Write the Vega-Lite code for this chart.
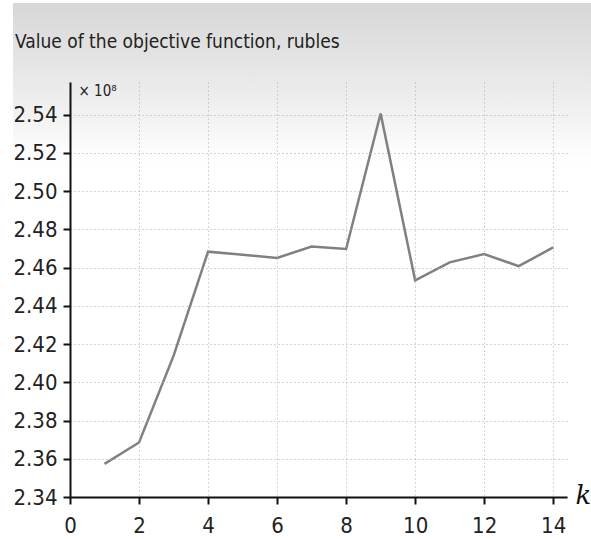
{
  "$schema": "https://vega.github.io/schema/vega-lite/v6.json",
  "width": 497,
  "height": 415,
  "autosize": {"type": "none"},
  "padding": {"left": 70, "top": 82, "right": 24, "bottom": 42},
  "background": "white",
  "config": {"view": {"stroke": null}},
  "title": {
    "text": "Value of the objective function, rubles",
    "anchor": "start",
    "frame": "group",
    "dx": -55,
    "offset": -63,
    "baseline": "alphabetic",
    "font": "DejaVu Sans Condensed, Liberation Sans Narrow, Roboto",
    "fontSize": 19,
    "fontWeight": "normal",
    "color": "#222222",
    "zindex": 2
  },
  "data": {
    "values": [
      {"k": 1, "v": 2.3573},
      {"k": 2, "v": 2.3685},
      {"k": 3, "v": 2.4138},
      {"k": 4, "v": 2.4683},
      {"k": 5, "v": 2.4667},
      {"k": 6, "v": 2.4650},
      {"k": 7, "v": 2.4710},
      {"k": 8, "v": 2.4697},
      {"k": 9, "v": 2.5405},
      {"k": 10, "v": 2.4533},
      {"k": 11, "v": 2.4627},
      {"k": 12, "v": 2.4670},
      {"k": 13, "v": 2.4607},
      {"k": 14, "v": 2.4705}
    ]
  },
  "layer": [
    {
      "mark": {
        "type": "rect",
        "clip": false,
        "fill": {
          "gradient": "linear",
          "x1": 0, "y1": 0, "x2": 0, "y2": 1,
          "stops": [
            {"offset": 0, "color": "rgba(215,215,215,0.6)"},
            {"offset": 1, "color": "rgba(255,255,255,0)"}
          ]
        }
      },
      "encoding": {
        "x": {"datum": -1.65, "type": "quantitative"},
        "x2": {"datum": 15.2},
        "y": {"datum": 2.598, "type": "quantitative"},
        "y2": {"datum": 2.505}
      }
    },
    {
      "mark": {"type": "line", "color": "#808080", "strokeWidth": 2.5},
      "encoding": {
        "x": {
          "field": "k",
          "type": "quantitative",
          "scale": {"domain": [0, 14.4], "nice": false, "zero": false},
          "axis": {
            "grid": true,
            "zindex": 1,
            "values": [0, 2, 4, 6, 8, 10, 12, 14],
            "title": "k",
            "titleFont": "DejaVu Serif",
            "titleFontStyle": "italic",
            "titleFontWeight": "normal",
            "titleFontSize": 26,
            "titleColor": "#111111",
            "titleX": 505,
            "titleY": -2,
            "titleAlign": "left",
            "titleBaseline": "middle",
            "labelFont": "DejaVu Sans Condensed, Liberation Sans Narrow, Roboto",
            "labelFontSize": 22,
            "labelColor": "#222222",
            "labelPadding": 11,
            "labelFlush": false,
            "domainColor": "#111111",
            "domainWidth": 2,
            "tickColor": "#111111",
            "tickWidth": 2,
            "tickSize": 7,
            "gridColor": "#aaaaaa",
            "gridDash": [1, 3],
            "gridWidth": 1
          }
        },
        "y": {
          "field": "v",
          "type": "quantitative",
          "scale": {"domain": [2.34, 2.557], "nice": false, "zero": false},
          "axis": {
            "grid": true,
            "zindex": 1,
            "values": [2.34, 2.36, 2.38, 2.40, 2.42, 2.44, 2.46, 2.48, 2.50, 2.52, 2.54],
            "format": ".2f",
            "title": "× 10⁸",
            "titleAngle": 0,
            "titleX": 8,
            "titleY": 1,
            "titleAlign": "left",
            "titleBaseline": "top",
            "titleFont": "DejaVu Sans Condensed, Liberation Sans Narrow, Roboto",
            "titleFontSize": 15,
            "titleFontWeight": "normal",
            "titleColor": "#222222",
            "labelFont": "DejaVu Sans Condensed, Liberation Sans Narrow, Roboto",
            "labelFontSize": 22,
            "labelColor": "#222222",
            "labelPadding": 6,
            "labelFlush": false,
            "domainColor": "#111111",
            "domainWidth": 2,
            "tickColor": "#111111",
            "tickWidth": 2,
            "tickSize": 7,
            "gridColor": "#aaaaaa",
            "gridDash": [1, 3],
            "gridWidth": 1
          }
        }
      }
    }
  ]
}
